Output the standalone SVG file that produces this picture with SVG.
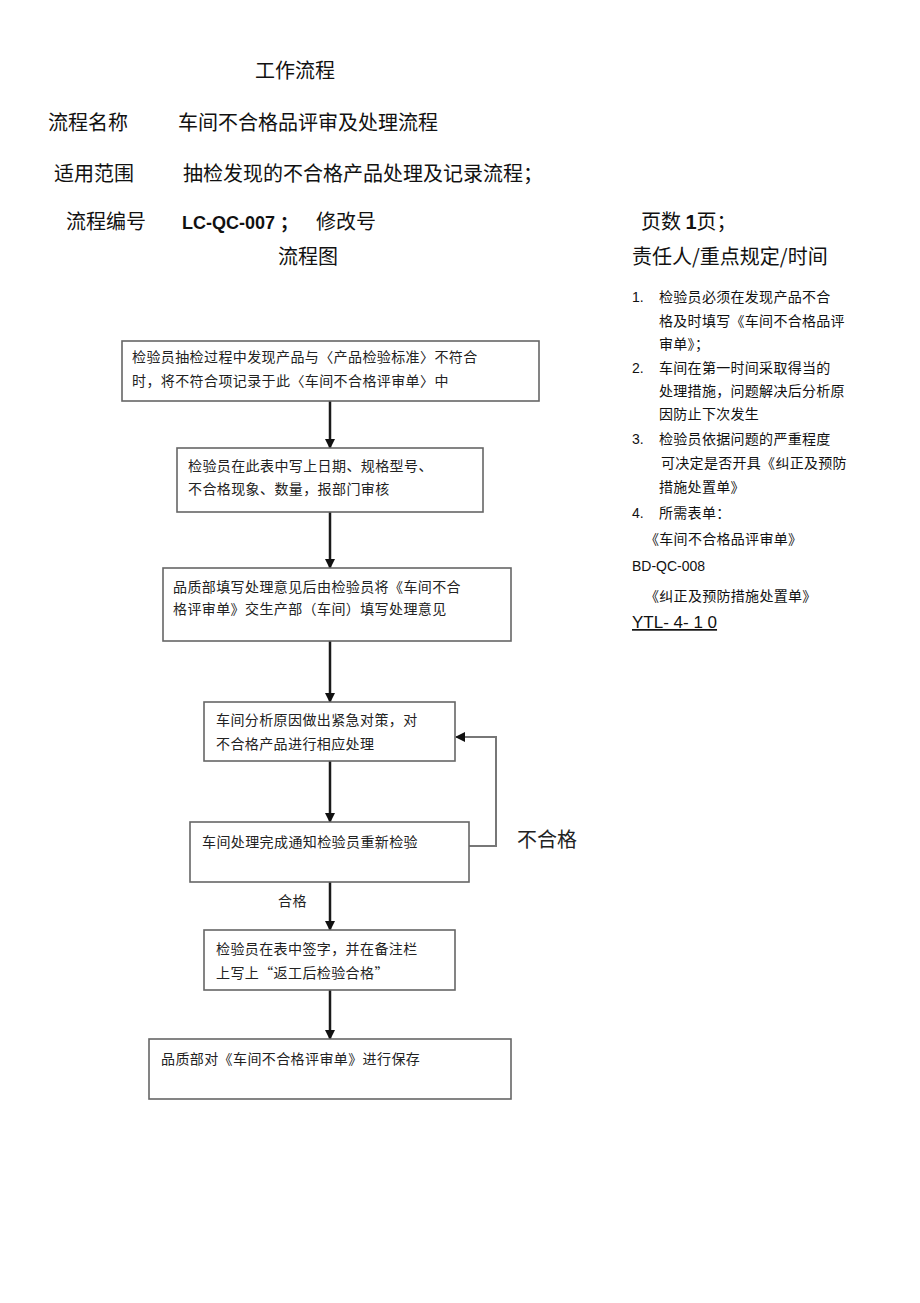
<svg xmlns="http://www.w3.org/2000/svg" width="920" height="1303" viewBox="0 0 920 1303">
<style>
.h{font-family:"Noto Sans CJK SC","Liberation Sans",sans-serif;font-size:20px;fill:#111}
.hb{font-family:"Liberation Sans","Noto Sans CJK SC",sans-serif;font-size:18px;font-weight:bold;fill:#111}
.l{font-family:"Noto Sans CJK SC","Liberation Sans",sans-serif;font-size:14px;fill:#111;letter-spacing:0.3px}
.n{font-family:"Liberation Sans",sans-serif;font-size:14px;fill:#111}
.t{font-family:"Noto Sans CJK SC",sans-serif;font-size:14px;fill:#222;letter-spacing:0.4px}
.box{fill:#fff;stroke:#666;stroke-width:1.6}
.arr{stroke:#1a1a1a;stroke-width:2.5;fill:none;marker-end:url(#ah)}
.loop{stroke:#777;stroke-width:2;fill:none;marker-end:url(#ah)}
</style>
<defs>
<marker id="ah" markerWidth="10" markerHeight="10" refX="9" refY="5" orient="auto" markerUnits="userSpaceOnUse">
<path d="M0,0 L10,5 L0,10 Z" fill="#111"/>
</marker>
</defs>
<rect width="920" height="1303" fill="#fff"/>

<g id="header">
<text class="h" x="255" y="78">工作流程</text>
<text class="h" x="48" y="130">流程名称</text>
<text class="h" x="178" y="130">车间不合格品评审及处理流程</text>
<text class="h" x="54" y="181">适用范围</text>
<text class="h" x="183" y="181">抽检发现的不合格产品处理及记录流程；</text>
<text class="h" x="66" y="229">流程编号</text>
<text class="hb" x="182" y="229">LC-QC-007 ；</text>
<text class="h" x="316" y="229">修改号</text>
<text class="h" x="641" y="229">页数 <tspan font-weight="bold" font-family="Liberation Sans">1</tspan>页；</text>
<text class="h" x="278" y="264">流程图</text>
<text class="h" x="632" y="264">责任人/重点规定/时间</text>
</g>

<g id="notes">
<text class="n" x="632" y="302">1.</text>
<text class="l" x="659" y="302">检验员必须在发现产品不合</text>
<text class="l" x="659" y="326">格及时填写《车间不合格品评</text>
<text class="l" x="659" y="349">审单》；</text>
<text class="n" x="632" y="373">2.</text>
<text class="l" x="659" y="373">车间在第一时间采取得当的</text>
<text class="l" x="659" y="396">处理措施，问题解决后分析原</text>
<text class="l" x="659" y="419">因防止下次发生</text>
<text class="n" x="632" y="444">3.</text>
<text class="l" x="659" y="444">检验员依据问题的严重程度</text>
<text class="l" x="661" y="468">可决定是否开具《纠正及预防</text>
<text class="l" x="659" y="492">措施处置单》</text>
<text class="n" x="632" y="518">4.</text>
<text class="l" x="659" y="518">所需表单：</text>
<text class="l" x="645" y="544">《车间不合格品评审单》</text>
<text class="n" x="632" y="571">BD-QC-008</text>
<text class="l" x="645" y="601">《纠正及预防措施处置单》</text>
<text x="632" y="628" font-family="Liberation Sans" font-size="17" fill="#111" text-decoration="underline">YTL- 4- 1 0</text>
</g>

<g id="connectors">
<line class="arr" x1="330" y1="401" x2="330" y2="448"/>
<line class="arr" x1="330" y1="512" x2="330" y2="568"/>
<line class="arr" x1="330" y1="641" x2="330" y2="702"/>
<line class="arr" x1="330" y1="761" x2="330" y2="822"/>
<line class="arr" x1="330" y1="882" x2="330" y2="930"/>
<line class="arr" x1="330" y1="990" x2="330" y2="1039"/>
<polyline class="loop" points="469,846 496,846 496,737 456,737"/>
<text x="517" y="847" font-family="Noto Sans CJK SC,sans-serif" font-size="20" fill="#222">不合格</text>
<text class="t" x="278" y="906">合格</text>
</g>

<g id="n1">
<rect class="box" x="122" y="341" width="417" height="60"/>
<text class="t" x="132" y="362">检验员抽检过程中发现产品与〈产品检验标准〉不符合</text>
<text class="t" x="132" y="386">时，将不符合项记录于此〈车间不合格评审单〉中</text>
</g>
<g id="n2">
<rect class="box" x="177" y="448" width="306" height="64"/>
<text class="t" x="188" y="471">检验员在此表中写上日期、规格型号、</text>
<text class="t" x="188" y="494">不合格现象、数量，报部门审核</text>
</g>
<g id="n3">
<rect class="box" x="163" y="568" width="348" height="73"/>
<text class="t" x="173" y="592">品质部填写处理意见后由检验员将《车间不合</text>
<text class="t" x="173" y="614">格评审单》交生产部（车间）填写处理意见</text>
</g>
<g id="n4">
<rect class="box" x="204" y="702" width="251" height="59"/>
<text class="t" x="216" y="725">车间分析原因做出紧急对策，对</text>
<text class="t" x="216" y="749">不合格产品进行相应处理</text>
</g>
<g id="n5">
<rect class="box" x="190" y="822" width="279" height="60"/>
<text class="t" x="202" y="847">车间处理完成通知检验员重新检验</text>
</g>
<g id="n6">
<rect class="box" x="204" y="930" width="251" height="60"/>
<text class="t" x="216" y="954">检验员在表中签字，并在备注栏</text>
<text class="t" x="216" y="978">上写上“返工后检验合格”</text>
</g>
<g id="n7">
<rect class="box" x="149" y="1039" width="362" height="60"/>
<text class="t" x="161" y="1064">品质部对《车间不合格评审单》进行保存</text>
</g>
</svg>
